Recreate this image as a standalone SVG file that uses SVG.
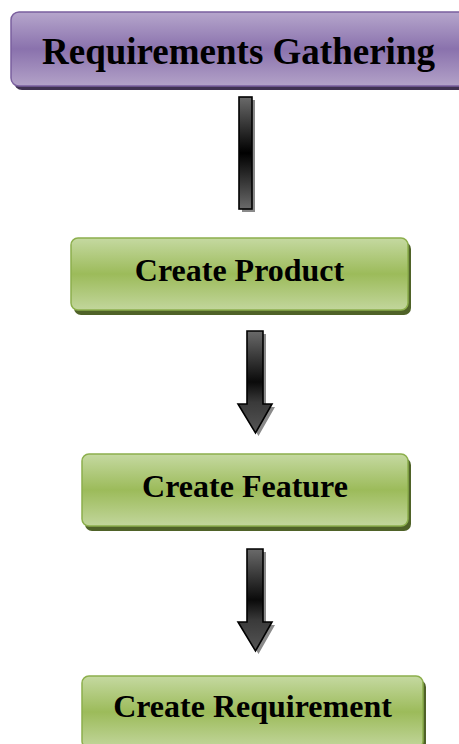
<svg xmlns="http://www.w3.org/2000/svg" width="459" height="744" viewBox="0 0 459 744">
<defs>
<linearGradient id="gGreen" x1="0" y1="0" x2="0" y2="1">
<stop offset="0" stop-color="#c5d9a1"/>
<stop offset="0.5" stop-color="#9cbb5a"/>
<stop offset="1" stop-color="#c2d69c"/>
</linearGradient>
<linearGradient id="gPurple" x1="0" y1="0" x2="0" y2="1">
<stop offset="0" stop-color="#b6a6cc"/>
<stop offset="0.5" stop-color="#8a72ad"/>
<stop offset="1" stop-color="#b3a2c8"/>
</linearGradient>
<linearGradient id="gBar" x1="0" y1="0" x2="0" y2="1">
<stop offset="0" stop-color="#6a6a6a"/>
<stop offset="0.5" stop-color="#000000"/>
<stop offset="1" stop-color="#6a6a6a"/>
</linearGradient>
<linearGradient id="gArrow" x1="0" y1="0" x2="0" y2="1">
<stop offset="0" stop-color="#6a6a6a"/>
<stop offset="0.5" stop-color="#0a0a0a"/>
<stop offset="0.7" stop-color="#3a3a3a"/>
<stop offset="1" stop-color="#555555"/>
</linearGradient>
<path id="arrowShape" d="M247,0 L263,0 L263,73 L272,73 L255.5,102 L238,73 L247,73 Z"/>
</defs>
<style>
.green{fill:url(#gGreen);stroke:#8caf4c;stroke-width:1.5}
.greenShadow{fill:#4f6228}
.purple{fill:url(#gPurple);stroke:#7a5f9e;stroke-width:1.5}
.purpleShadow{fill:#3f3151}
.lbl{font-family:"Liberation Serif","Times New Roman",serif;font-weight:bold;fill:#000;text-anchor:middle}
.conn{fill:url(#gArrow);stroke:#000;stroke-width:1.6;stroke-linejoin:miter}
.connShadow{fill:#8a8a8a}
</style>

<g id="node-requirements-gathering">
<rect class="purpleShadow" x="14" y="16" width="456" height="74" rx="8"/>
<rect class="purple" x="11" y="12" width="456" height="74" rx="8"/>
<text class="lbl" x="238.5" y="64" font-size="37">Requirements Gathering</text>
</g>

<g id="connectors">
<rect class="connShadow" x="242" y="100" width="13" height="112"/>
<rect x="239" y="97" width="13" height="112" fill="url(#gBar)" stroke="#000" stroke-width="1.6"/>
<g transform="translate(0,331)">
<use href="#arrowShape" class="connShadow" transform="translate(3,3)"/>
<use href="#arrowShape" class="conn"/>
</g>
<g transform="translate(0,549)">
<use href="#arrowShape" class="connShadow" transform="translate(3,3)"/>
<use href="#arrowShape" class="conn"/>
</g>
</g>

<g id="node-create-product">
<rect class="greenShadow" x="74" y="242" width="337" height="73" rx="7"/>
<rect class="green" x="71" y="238" width="337" height="72" rx="7"/>
<text class="lbl" x="239.5" y="281" font-size="32">Create Product</text>
</g>

<g id="node-create-feature">
<rect class="greenShadow" x="85" y="458" width="326" height="73" rx="7"/>
<rect class="green" x="82" y="454" width="326" height="72" rx="7"/>
<text class="lbl" x="245" y="497" font-size="32">Create Feature</text>
</g>

<g id="node-create-requirement">
<rect class="greenShadow" x="85" y="680" width="341" height="73" rx="7"/>
<rect class="green" x="82" y="676" width="341" height="72" rx="7"/>
<text class="lbl" x="252.5" y="717" font-size="32">Create Requirement</text>
</g>
</svg>
